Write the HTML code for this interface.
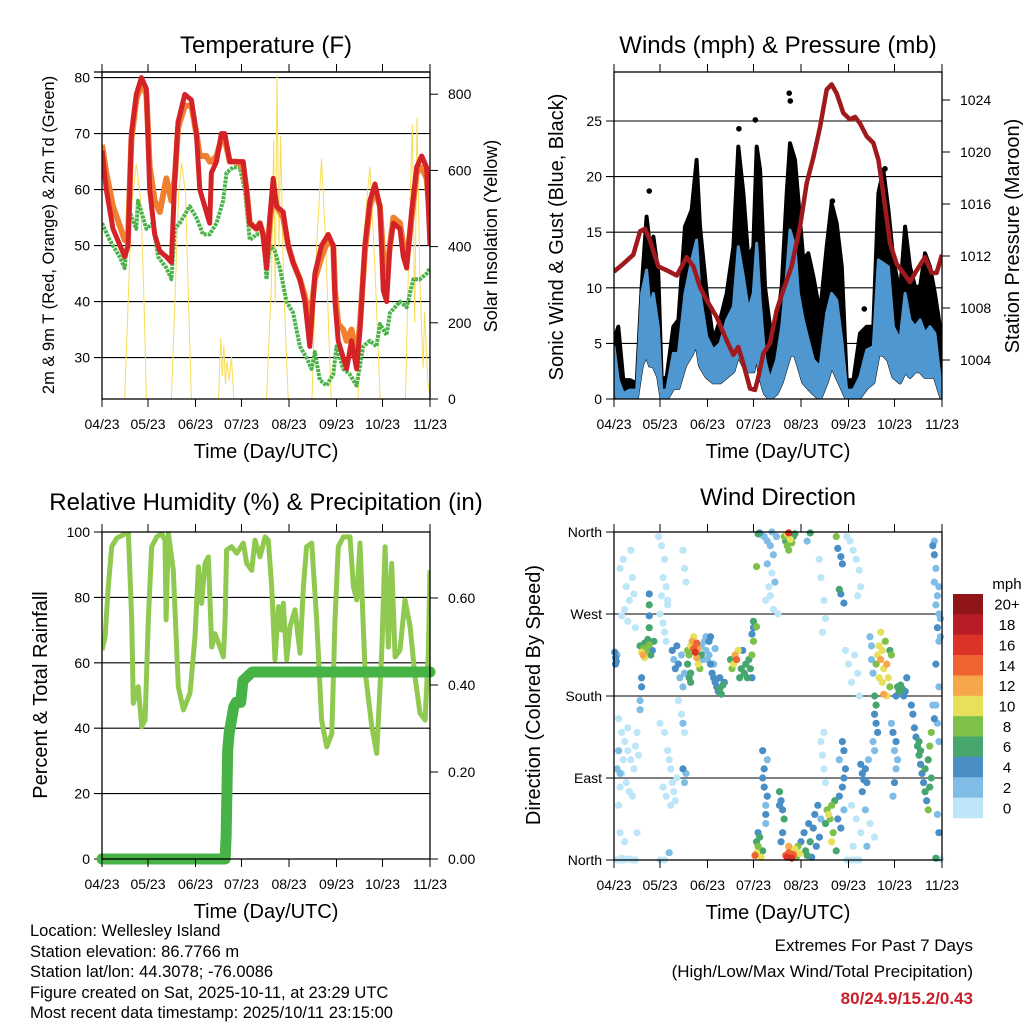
<!DOCTYPE html>
<html><head><meta charset="utf-8">
<style>
html,body{margin:0;padding:0;background:#fff;}
svg{display:block;font-family:"Liberation Sans",Arial,sans-serif;}
</style></head>
<body>
<svg id="fig" width="1024" height="1024" viewBox="0 0 1024 1024" xmlns="http://www.w3.org/2000/svg">
<defs>
<clipPath id="cTL"><rect x="102" y="72" width="328" height="327"/></clipPath>
<clipPath id="cTR"><rect x="614" y="72" width="328" height="327"/></clipPath>
<clipPath id="cBL"><rect x="102" y="532" width="328" height="327"/></clipPath>
<clipPath id="cBR"><rect x="610" y="526" width="336" height="338"/></clipPath>
</defs>
<g id="root"></g>
</svg>
<script>
// ---------- shared time axis ----------
const monthTickDays = [0,30,61,91,122,153,183,214];
const monthTickLabels = ["04/23","05/23","06/23","07/23","08/23","09/23","10/23","11/23"];
// ---------- temperature ----------
const tDays = [0,2.8,7.2,14.8,17.0,19.2,22.4,25.7,29.0,31.1,34.4,37.7,42.0,45.3,47.5,49.6,54.0,58.3,61.6,63.8,68.1,70.3,71.4,74.7,77.9,80.1,83.4,87.7,92.1,94.3,96.4,100.8,103.0,105.1,107.3,109.5,111.7,113.9,118.2,121.5,124.7,129.1,132.4,135.6,138.9,143.2,147.6,150.9,152.0,154.1,157.4,159.6,162.8,166.1,168.3,171.5,174.8,178.1,181.3,183.5,185.7,187.9,190.1,194.4,196.6,198.8,202.0,205.3,208.6,211.8,214];
const temp2m = [67,60,53,48,50,70,77,80,78,60,52,49,48,47,62,72,77,76,70,60,56,54,63,65,70,70,65,65,65,60,54,53,54,52,46,55,62,57,56,50,47,44,40,32,45,50,52,50,40,33,30,28,33,28,35,50,58,61,57,42,40,50,54,53,48,46,56,64,66,64,50];
const temp9m = [68,63,57,51,52,69,76,79,77,64,58,56,62,58,62,71,75,75,70,66,66,65,65,66,69,69,65,65,64,60,54,53,54,52,47,54,60,57,55,50,47,44,41,36,44,48,51,50,42,36,35,33,35,30,36,49,57,60,57,48,45,50,55,54,50,47,55,63,64,62,55];
const tdDays = [0,5.0,11.5,14.8,18.1,22.4,23.5,29.0,33.3,36.6,42.0,45.3,47.5,50.7,57.2,61.6,65.9,70.3,74.7,79.0,81.2,85.6,89.9,93.2,96.4,100.8,105.1,107.3,109.5,112.8,116.0,120.4,124.7,129.1,133.4,136.7,138.9,142.1,146.5,150.9,153.0,157.4,161.7,166.1,170.4,174.8,179.1,181.3,185.7,187.9,194.4,198.8,203.1,207.5,211.8,214];
const dewpoint = [54,51,48,46,56,53,58,53,54,48,46,44,53,54,57,55,52,52,54,58,63,64,64,60,51,52,52,44,50,49,46,40,38,32,30,28,31,26,25,27,32,28,27,25,32,33,32,36,34,38,40,39,44,44,45,46];
const solarDays = [0,14.8,17,19.5,22.4,25.3,27.5,29,45.3,47.5,50,52,54.5,56.5,58.3,76,77.5,78.5,79.5,80.5,81.5,83,84.5,86,107.3,110.5,112,113,114.2,115.5,116.5,118.5,121.5,137,140,143.2,146,149.5,167,170,174.8,178,181.5,198,200.5,202.5,204,205.5,207.5,209.5,210.5,212.5,214];
const solarVals = [0,0,250,520,616,520,250,0,0,250,540,620,540,250,0,0,160,60,140,40,100,50,110,0,0,300,680,250,850,400,690,300,0,0,400,630,400,0,0,400,610,350,0,0,450,720,200,740,300,80,230,50,0];
const tempTicks = [30,40,50,60,70,80];
const solarTicks = [0,200,400,600,800];
// ---------- winds ----------
const windDays = [0,2.8,6.1,10.4,14.8,18.1,21.3,23.5,25.7,28.9,31.1,34.4,38.7,42.0,46.3,50.7,53.9,56.1,60.5,64.8,69.2,73.5,77.9,81.1,84.4,87.7,90.9,93.1,95.3,98.5,101.8,106.1,109.4,112.7,114.8,118.1,120.3,123.5,126.8,130.1,134.4,138.8,142.0,145.3,148.6,151.8,156.2,160.5,164.9,169.2,172.5,175.7,179.0,182.3,186.6,189.9,193.1,196.4,199.7,202.9,206.2,209.4,212.7,214];
const windLow = [0.5,0,0,0,0,3,4,3,3,2,0,0,1,1,3,4,5,3,2,1.5,1.5,2,2.5,4,3,2.5,2.5,4,2,0.5,0,0.5,1.5,3,4,4,3,1.5,1,0.5,0,1.5,3,2,1,0,0,0.2,1,1.5,4,4,3.5,2,1.5,2.5,2,2.5,2.5,2,2,2,0.5,0];
const windHigh = [4.7,1.7,0.5,0.8,0.8,9.5,11.6,8.3,9.5,6.5,0.8,0.8,4.1,4.1,9.5,12.5,14.3,9.5,5.6,4.4,5.0,7.1,8.3,13.7,11.0,8.0,9.5,14.0,8.9,3.5,1.7,3.5,6.5,11.3,15.2,13.7,9.5,7.1,5.3,3.5,2.9,7.7,9.5,8.9,5.3,0.8,0.8,2.0,4.4,4.7,12.5,12.2,11.9,6.5,5.3,9.5,7.1,6.5,7.1,5.9,6.5,5.9,2.0,0.2];
const gustHigh = [5.3,6.5,1.7,1.7,1.4,10.1,16.4,13.7,14.6,11.3,1.7,2.0,6.5,7.1,15.5,17.0,21.5,15.5,9.5,5.3,7.1,9.5,13.7,22.7,18.5,12.5,13.7,22.7,20.6,10.1,6.5,6.5,10.1,18.5,23.0,21.5,17.9,12.5,13.1,11.0,7.7,13.7,17.6,15.8,11.9,1.7,1.7,5.9,6.5,6.5,18.5,20.6,17.0,12.5,9.5,15.5,11.9,10.1,10.1,13.1,11.9,9.5,6.5,0.8];
const gustOutlierDays = [23,114.3,115,92.2,81.5,142.5,176.8,163.3];
const gustOutlierVals = [18.7,27.5,26.8,25.1,24.3,17.8,20.7,8.1];
const presDays = [0,6.1,12.6,17.0,20.2,23.5,28.9,34.4,40.9,47.4,51.8,56.1,60.5,67.0,73.5,77.9,81.1,84.4,88.8,92.0,94.2,97.4,101.8,106.1,110.5,115.9,121.4,125.7,130.1,134.4,138.8,142.0,145.3,149.6,154.0,157.3,160.5,164.9,169.2,172.5,175.7,180.1,184.4,188.8,193.1,197.5,202.9,207.3,210.5,214];
const pressure = [1010.8,1011.4,1012.1,1013.9,1014.1,1013.2,1011.2,1010.9,1010.5,1011.9,1011.2,1009.6,1008.6,1007.3,1005.5,1004.4,1005.0,1003.7,1001.8,1001.7,1002.7,1004.5,1005.3,1007.8,1009.4,1011.2,1014.3,1017.6,1019.6,1021.9,1024.8,1025.2,1024.5,1023.0,1022.5,1022.7,1022.2,1021.2,1020.7,1019.4,1016.8,1013.0,1011.4,1010.7,1010.0,1010.9,1011.9,1010.7,1010.7,1012.1];
const mphTicks = [0,5,10,15,20,25];
const presTicks = [1004,1008,1012,1016,1020,1024];
// ---------- humidity / precip ----------
const rhDays = [0,2.0,4.1,6.3,9.6,16.1,17.2,19.4,20.4,23.7,25.9,28.1,30.2,32.4,35.7,38.9,41.1,41.8,43.3,46.5,49.8,53.1,57.4,60.7,62.9,65.0,67.2,69.4,71.6,73.7,77.0,79.2,80.3,81.3,84.6,87.9,92.2,94.4,97.7,99.8,103.1,106.4,108.5,110.7,112.9,115.1,117.2,118.3,120.5,122.7,125.9,129.2,131.4,133.5,136.8,140.1,143.3,146.6,149.9,152.0,154.2,157.5,161.8,164.0,166.2,168.3,171.6,176.0,179.2,182.5,184.7,186.8,189.0,191.2,194.4,197.7,201.0,204.2,207.5,210.8,212.9,214.0];
const rhVals = [63.9,67.9,83.3,95.5,98.1,99.7,99.7,73.1,47.6,52.7,40.5,42.5,73.1,95.5,98.5,99.5,97.5,73.1,99.5,88.3,52.7,45.6,50.7,68.0,89.4,78.2,90.4,92.4,64.8,68.9,64.8,61.8,73.1,94.5,95.5,93.5,96.6,90.4,88.3,97.5,92.4,98.5,97.5,83.3,60.9,77.2,70.0,78.2,60.9,71.1,76.2,62.9,83.3,95.5,96.6,73.1,42.5,34.3,38.3,73.1,95.5,98.5,98.5,83.3,79.2,96.6,57.8,40.5,32.3,62.9,95.5,64.8,90.4,61.8,63.9,79.2,71.1,55.8,44.6,42.5,62.9,88.3];
const prDays = [0,80.3,81.0,81.5,82.0,83.0,84.5,86.0,87.5,90.5,92.0,98,214];
const prVals = [0,0,0.05,0.15,0.25,0.29,0.32,0.35,0.36,0.36,0.41,0.43,0.43];
const rhTicks = [0,20,40,60,80,100];
const prTicks = [0,0.2,0.4,0.6];
const prTickLabels = ["0.00","0.20","0.40","0.60"];
// ---------- wind direction [day, degrees, speed mph] ----------
const windDirObs = [
[4,320,0],[6,330,0],[8,300,0],[10,285,0],[12,310,0],[7,275,0],[5,268,0],[9,262,0],[14,255,0],[11,340,0],[13,292,0],
[1,222,4],[1,215,4],[0.5,228,4],[1.5,218,4],[2,225,2],
[3,155,0],[5,140,0],[7,130,0],[9,120,0],[11,110,0],[13,100,0],[5,95,0],[8,85,0],[10,75,0],[4,80,0],[14,125,0],[16,115,0],[12,70,0],[6,110,0],[3,60,0],[3,120,2],[4,95,2],[15,140,0],[9,145,0],[2,100,2],
[5,2,0],[8,1,0],[10,1,0],[12,0,0],[7,20,0],[4,30,0],[15,30,0],[2,0,0],[4,0,0],[6,0,0],[14,0,0],[30,0,0],[33,0,0],
[17,235,6],[18,228,10],[19,232,8],[20,238,6],[21,230,8],[22,242,6],[23,236,8],[24,225,6],[25,230,4],[26,240,6],[19,225,12],[20,222,10],
[23,292,4],[23,280,6],[23,268,4],[23,255,6],[18,190,4],[18,200,4],[17,175,2],[17,165,2],
[29,355,0],[31,345,0],[33,330,0],[32,310,0],[31,290,0],[34,300,0],[35,285,0],[30,270,0],[32,260,0],[33,250,0],[34,240,0],[35,280,0],
[30,150,0],[33,140,0],[35,120,0],[37,100,0],[32,80,0],[34,70,0],[37,60,0],[39,75,0],[41,90,0],[36,110,0],[38,85,0],[40,65,0],
[38,230,4],[39,220,2],[40,210,4],[42,215,4],[43,200,2],[44,225,2],[41,235,4],[45,190,2],[46,205,2],
[42,175,0],[44,160,0],[45,150,2],[46,140,0],[45,100,4],[46,85,2],[47,95,2],[45,340,0],[46,320,0],[47,305,0],[36,8,2],
[48,215,6],[49,225,8],[50,235,10],[51,240,12],[52,232,14],[53,228,16],[54,222,12],[55,215,10],[56,210,8],[50,205,6],[48,230,8],[52,245,10],[55,232,12],[57,225,6],[54,238,14],[49,200,6],[50,195,6],
[57,235,2],[59,240,2],[60,230,2],[61,220,2],[62,225,2],[63,215,4],[64,205,4],[65,200,4],[66,195,4],[67,190,4],[68,185,4],[69,188,6],[70,182,6],[71,192,6],[60,245,2],[58,220,2],[62,240,4],[65,215,2],[69,200,4],[72,195,4],[63,245,4],[66,232,2],
[79,225,12],[80,220,14],[81,230,10],[78,215,10],[77,210,8],[76,220,6],[83,210,6],[85,205,6],[86,215,6],[88,220,6],[89,210,6],[87,200,6],[90,225,8],[91,240,8],[90,200,4],[82,200,6],[84,230,4],
[90,248,4],[91,255,4],[91,262,6],[93,322,8],[93,256,8],[94,358,6],[95,359,4],
[96,357,2],[98,355,2],[100,350,2],[102,345,2],[104,335,2],[100,325,2],[103,315,0],[105,305,2],[101,300,0],[99,285,0],[102,290,0],[104,275,0],[107,270,0],[106,355,2],[103,360,2],
[111,355,8],[112,350,6],[113,345,8],[113,358,10],[114,359,16],[115,352,10],[116,348,8],[117,355,6],[118,358,6],[114,340,8],[126,350,2],[128,359,6],
[92,5,14],[93,8,10],[94,15,8],[95,25,6],[94,30,4],[96,3,10],[97,10,6],[93,20,6],
[97,120,4],[98,100,4],[98,80,4],[99,60,2],[99,40,2],[100,110,2],[97,90,4],[100,70,4],[99,50,4],
[108,75,6],[109,65,4],[110,55,4],[111,45,6],[110,30,4],[109,20,4],[108,60,4],
[112,5,14],[113,3,16],[114,8,14],[115,4,12],[116,10,10],[117,6,14],[118,12,10],[119,3,8],[120,15,8],[121,7,10],[114,15,12],[116,2,16],
[122,20,4],[124,30,4],[125,10,6],[127,40,4],[128,20,6],[130,35,4],[131,50,4],[132,15,4],[133,60,4],[134,25,4],[135,45,2],[126,5,6],[129,3,4],
[138,40,6],[139,55,8],[140,50,10],[141,45,8],[142,60,8],[143,30,8],[142,20,10],[144,65,6],[145,10,6],[146,45,4],[147,70,4],[148,35,4],[149,80,4],[150,90,4],[151,100,4],[150,120,4],[150,55,2],[147,110,2],[149,130,4],
[135,130,0],[136,115,0],[137,100,0],[137,140,0],[138,85,0],[134,330,0],[135,310,0],[137,285,0],[138,265,0],[136,250,0],
[145,355,8],[146,342,4],[148,333,4],[149,325,4],[147,297,6],[148,292,4],[150,282,4],
[152,355,0],[154,350,0],[156,340,0],[158,330,0],[160,318,0],[161,300,0],[159,290,0],
[151,230,0],[153,215,0],[155,195,0],[157,225,0],[159,205,0],[160,180,0],
[161,105,4],[162,95,4],[163,88,4],[164,100,4],[165,85,4],[166,110,2],[162,75,4],
[155,60,0],[158,45,0],[161,30,0],[164,55,2],[167,40,0],[170,25,0],[156,15,0],[165,15,2],[152,0,0],[155,0,0],[158,0,0],[160,0,0],
[167,245,2],[168,235,2],[168,220,2],[169,205,2],
[170,180,6],[171,170,6],[170,160,4],[171,150,4],[172,140,4],[169,130,2],[170,120,2],
[172,225,10],[173,235,10],[174,220,12],[175,230,10],[176,210,10],[177,240,8],[178,215,12],[179,200,10],[180,190,8],[181,225,8],[175,195,10],[173,200,10],[176,182,12],[178,180,10],[174,250,10],[180,230,6],[171,215,8],
[185,190,6],[186,185,6],[187,192,6],[188,188,6],[189,180,4],[190,185,4],[184,180,4],[191,200,4],
[181,150,2],[182,140,4],[183,120,2],[184,100,2],[183,85,4],[182,70,2],[184,130,4],[185,110,2],
[194,170,4],[195,160,4],[196,145,4],[197,135,4],[198,125,6],[199,115,6],[200,105,4],[201,95,4],[202,85,4],[203,75,6],[204,65,4],[205,55,8],[199,130,6],[200,120,6],[203,100,6],[206,80,6],[207,90,6],[205,110,6],[206,125,8],[207,140,8],
[209,155,4],[208,170,2],
[208,345,4],[209,335,4],[210,320,2],[209,305,2],[211,290,2],[210,280,2],[212,270,2],[211,255,4],[212,240,2],[213,265,2],[210,215,4],[209,350,2],[212,300,2],[213,245,2],[212,190,2],[210,170,2],[211,150,2],[212,130,2],[211,50,2],[212,30,4],[210,2,6],[213,1,0]
];
const dirTicks = [0,90,180,270,360];
const dirTickLabels = ["North","East","South","West","North"];
const speedBinLabels = ["0","2","4","6","8","10","12","14","16","18","20+"];
const speedColors = ["#bde6f8","#7fbde6","#4a8ec6","#47a56e","#7dc14a","#e6e05a","#f5a74a","#ee6331","#dc3328","#b81d25","#8f1519"];

// ================= drawing =================
const NS="http://www.w3.org/2000/svg";
const root=document.getElementById('root');
function mk(tag,attrs,parent){const e=document.createElementNS(NS,tag);for(const k in attrs)e.setAttribute(k,attrs[k]);(parent||root).appendChild(e);return e;}
function txt(s,attrs,parent){const e=mk('text',attrs,parent);e.textContent=s;return e;}
const PW=328;
function xAt(x0,d){return x0+d/214*PW;}
function poly(xs,ys){let s='';for(let i=0;i<xs.length;i++)s+=(i?'L':'M')+xs[i].toFixed(1)+' '+ys[i].toFixed(1);return s;}

function frame(g,x0,y0,y1,name){
  const f=mk('rect',{x:x0,y:y0,width:PW,height:y1-y0,fill:'none',stroke:'#000','stroke-width':1.3},g);
  
  monthTickDays.forEach((d,i)=>{
    const x=xAt(x0,d);
    mk('line',{x1:x,x2:x,y1:y1,y2:y1+8,stroke:'#000','stroke-width':1},g);
    mk('line',{x1:x,x2:x,y1:y0-8,y2:y0,stroke:'#000','stroke-width':1},g);
    const t=txt(monthTickLabels[i],{x:x,y:y1+30,'font-size':14,'text-anchor':'middle'},g);
    
  });
  const xt=txt('Time (Day/UTC)',{x:x0+PW/2,y:y1+59,'font-size':20,'text-anchor':'middle'},g);
  
}
function hgrid(g,x0,ys){ys.forEach(y=>{mk('line',{x1:x0-8,x2:x0+PW,y1:y,y2:y,stroke:'#000','stroke-width':1.1},g);});}
function leftLabels(g,x0,vals,fy,labels){vals.forEach((v,i)=>{const t=txt(labels?labels[i]:String(v),{x:x0-12,y:fy(v)+5,'font-size':14,'text-anchor':'end'},g);});}
function rightLabels(g,x0,vals,fy,labels){const x1=x0+PW;vals.forEach((v,i)=>{const y=fy(v);mk('line',{x1:x1,x2:x1+8,y1:y,y2:y,stroke:'#000','stroke-width':1},g);const t=txt(labels?labels[i]:String(v),{x:x1+18,y:y+5,'font-size':14},g);});}
function vtitle(g,s,x,y,fs,name){const t=txt(s,{x:x,y:y,'font-size':fs,'text-anchor':'middle',transform:'rotate(-90 '+x+' '+y+')'},g);}
function title(g,s,x,y){const t=txt(s,{x:x,y:y,'font-size':24,'text-anchor':'middle'},g);}

// ---- Temperature panel ----
{
const g=mk('g',{});

const x0=102;
const tY=v=>399-(v-22.6)*5.6;
const sY=v=>399-v*0.381;
title(g,'Temperature (F)',266,53);
hgrid(g,x0,tempTicks.map(tY));
mk('line',{x1:x0-8,x2:x0+PW,y1:72,y2:72,stroke:'#000','stroke-width':1.2},g);
const c=mk('g',{'clip-path':'url(#cTL)'},g);
const so=mk('path',{d:poly(solarDays.map(d=>xAt(x0,d)),solarVals.map(sY)),fill:'none',stroke:'#f7dc5a','stroke-width':1},c);

const gd=mk('path',{d:poly(tdDays.map(d=>xAt(x0,d)),dewpoint.map(tY)),fill:'none',stroke:'#4bb24a','stroke-width':4,'stroke-linejoin':'round','stroke-dasharray':'3 1'},c);

const o=mk('path',{d:poly(tDays.map(d=>xAt(x0,d)),temp9m.map(tY)),fill:'none',stroke:'#f08030','stroke-width':6,'stroke-linejoin':'round'},c);

const r=mk('path',{d:poly(tDays.map(d=>xAt(x0,d)),temp2m.map(tY)),fill:'none',stroke:'#d42327','stroke-width':5,'stroke-linejoin':'round'},c);

frame(g,x0,72,399,'temperature');
leftLabels(g,x0,tempTicks,tY);
rightLabels(g,x0,solarTicks,sY);
vtitle(g,'2m & 9m T (Red, Orange) & 2m Td (Green)',54,235,16.5,'y-axis-title');
vtitle(g,'Solar Insolation (Yellow)',497,236,18,'y2-axis-title');
}
// ---- Winds panel ----
{
const g=mk('g',{});

const x0=614;
const mY=v=>399-v*11.12;
const pY=v=>360-(v-1004)*13;
title(g,'Winds (mph) & Pressure (mb)',778,53);
hgrid(g,x0,mphTicks.map(mY));
const c=mk('g',{'clip-path':'url(#cTR)'},g);
const xs=windDays.map(d=>xAt(x0,d));
const gp=mk('path',{d:poly(xs,gustHigh.map(mY))+poly(xs.slice().reverse(),windLow.map(mY).reverse()).replace('M','L')+'Z',fill:'#000',stroke:'#000','stroke-width':4,'stroke-linejoin':'round'},c);

gustOutlierDays.forEach((d,i)=>{const e=mk('circle',{cx:xAt(x0,d),cy:mY(gustOutlierVals[i]),r:2.8,fill:'#000'},c);

});
const bp=mk('path',{d:poly(xs,windHigh.map(mY))+poly(xs.slice().reverse(),windLow.map(mY).reverse()).replace('M','L')+'Z',fill:'#4f97d1',stroke:'#4f97d1','stroke-width':3,'stroke-linejoin':'round'},c);

const pl=mk('path',{d:poly(presDays.map(d=>xAt(x0,d)),pressure.map(pY)),fill:'none',stroke:'#a0191c','stroke-width':4.5,'stroke-linejoin':'round'},c);

frame(g,x0,72,399,'winds');
leftLabels(g,x0,mphTicks,mY);
rightLabels(g,x0,presTicks,pY);
vtitle(g,'Sonic Wind & Gust (Blue, Black)',563,237,20,'y-axis-title');
vtitle(g,'Station Pressure (Maroon)',1019,236,20,'y2-axis-title');
}
// ---- Humidity panel ----
{
const g=mk('g',{});

const x0=102;
const hY=v=>859-v*3.27;
const pY=v=>859-v*435;
title(g,'Relative Humidity (%) & Precipitation (in)',266,510);
hgrid(g,x0,rhTicks.map(hY));
const c=mk('g',{'clip-path':'url(#cBL)'},g);
const rh=mk('path',{d:poly(rhDays.map(d=>xAt(x0,d)),rhVals.map(hY)),fill:'none',stroke:'#8fc94f','stroke-width':5,'stroke-linejoin':'round'},c);

const pr=mk('path',{d:poly(prDays.map(d=>xAt(x0,d)),prVals.map(pY)),fill:'none',stroke:'#47b347','stroke-width':11,'stroke-linejoin':'round','stroke-linecap':'round'},g);

frame(g,x0,532,859,'humidity');
leftLabels(g,x0,rhTicks,hY);
rightLabels(g,x0,prTicks,pY,prTickLabels);
vtitle(g,'Percent & Total Rainfall',47,695,20,'y-axis-title');
}
// ---- Wind direction panel ----
{
const g=mk('g',{});

const x0=614;
const dY=v=>860-v/360*328;
title(g,'Wind Direction',778,505);
hgrid(g,x0,dirTicks.map(dY));
const c=mk('g',{'clip-path':'url(#cBR)'},g);
const sorted=windDirObs.slice().sort((a,b)=>a[2]-b[2]);
sorted.forEach(o=>{
  const bin=Math.min(10,Math.floor(o[2]/2));
  const e=mk('circle',{cx:xAt(x0,o[0]),cy:dY(o[1]),r:3.6,fill:speedColors[bin]},c);
  
  
});
frame(g,x0,532,860,'wind-direction');
leftLabels(g,x0,dirTicks,dY,dirTickLabels);
vtitle(g,'Direction (Colored By Speed)',540,695,20,'y-axis-title');
const lg=mk('g',{},g);

const mt=txt('mph',{x:1007,y:589,'font-size':15,'text-anchor':'middle'},lg);

const bh=224/11;
for(let i=0;i<11;i++){
  const k=10-i;
  const y=594+i*bh;
  const r=mk('rect',{x:953,y:y,width:30,height:bh+0.3,fill:speedColors[k]},lg);
  
  const t=txt(speedBinLabels[k],{x:1007,y:y+bh/2+5.5,'font-size':15,'text-anchor':'middle'},lg);
  
}
}
// ---- footer text ----
{
const g=mk('g',{});

const lines=["Location: Wellesley Island","Station elevation: 86.7766 m","Station lat/lon: 44.3078; -76.0086","Figure created on Sat, 2025-10-11, at 23:29 UTC","Most recent data timestamp: 2025/10/11 23:15:00"];
const ys=[936,957,977,998,1018];
lines.forEach((s,i)=>{const t=txt(s,{x:30,y:ys[i],'font-size':16.5},g);});
const e1=txt('Extremes For Past 7 Days',{x:973,y:951,'font-size':17,'text-anchor':'end'},g);

const e2=txt('(High/Low/Max Wind/Total Precipitation)',{x:973,y:977,'font-size':17,'text-anchor':'end'},g);

const e3=txt('80/24.9/15.2/0.43',{x:973,y:1004,'font-size':17,'font-weight':'bold','text-anchor':'end',fill:'#c8202a'},g);

}
</script>
</body></html>
